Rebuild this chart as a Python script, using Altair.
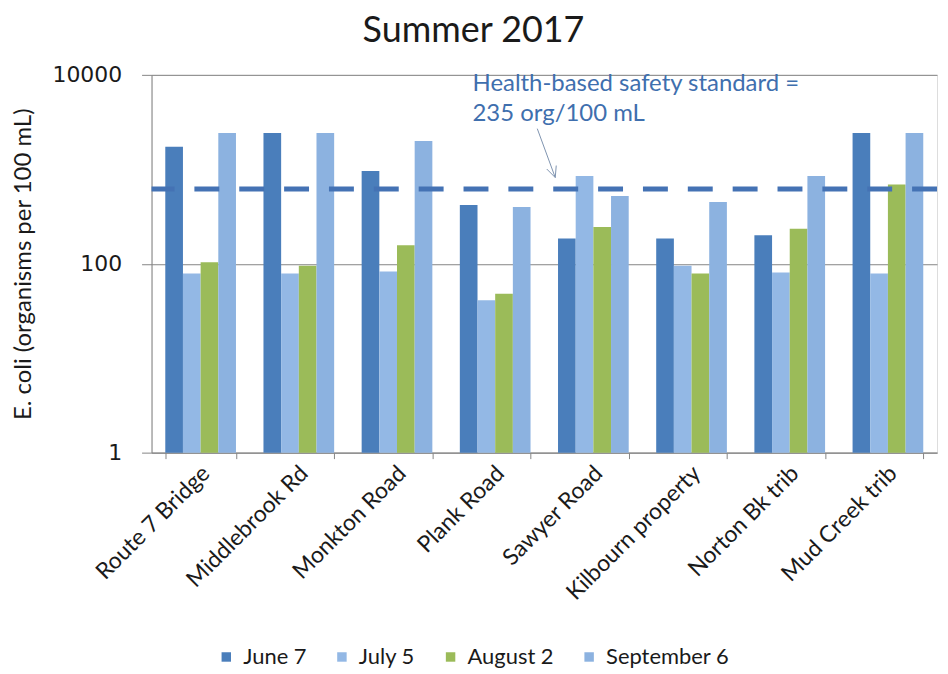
import altair as alt
import pandas as pd

sites = ["Route 7 Bridge", "Middlebrook Rd", "Monkton Road", "Plank Road",
         "Sawyer Road", "Kilbourn property", "Norton Bk trib", "Mud Creek trib"]
dates = ["June 7", "July 5", "August 2", "September 6"]
june7 = [1733, 2420, 960, 420, 185, 185, 200, 2420]
july5 = [79, 79, 83, 41, 850, 95, 81, 79]
aug2 = [104, 95, 157, 48, 245, 79, 235, 690]
sept6 = [2420, 2420, 1990, 400, 520, 450, 850, 2420]
colors = ["#4a7ebb", "#93b8e5", "#9bbb59", "#8cb2e0"]
standard_drawn = [620]  # dashed line as drawn in the picture
y_ticks = [1, 100, 10000]

rows = []
for d, series in zip(dates, [june7, july5, aug2, sept6]):
    for s, v in zip(sites, series):
        rows.append({"site": s, "date": d, "value": v})
df = pd.DataFrame(rows)

FONT = "Lato"
W, H = 788, 379

x = alt.X("site:N", sort=sites, title=None,
          scale=alt.Scale(paddingInner=0.28, paddingOuter=0.14),
          axis=alt.Axis(labelAngle=-45, labelAlign="right", labelBaseline="middle",
                        labelFontSize=23, labelFont=FONT, labelColor="#1a1a1a",
                        tickBand="extent", tickSize=6, tickColor="#868686",
                        domainColor="#868686", labelPadding=11, labelOffset=5,
                        grid=False))
y = alt.Y("value:Q", title="E. coli (organisms per 100 mL)",
          scale=alt.Scale(type="log", domain=[1, 10000], nice=False),
          axis=alt.Axis(values=y_ticks, format="d", labelFontSize=22,
                        labelFont="DejaVu Sans", labelColor="#1a1a1a",
                        tickSize=10, tickColor="#868686", domainColor="#868686",
                        labelPadding=20, titleFontSize=24, titleFont=FONT,
                        titleFontWeight="normal", titleColor="#1a1a1a",
                        titlePadding=16, grid=True, gridColor="#868686"))

bars = alt.Chart(df).mark_bar().encode(
    x=x,
    xOffset=alt.XOffset("date:N", sort=dates),
    y=y,
    y2=alt.datum(1),
    color=alt.Color("date:N", sort=dates,
                    scale=alt.Scale(domain=dates, range=colors),
                    legend=alt.Legend(title=None, orient="none", direction="horizontal",
                                      legendX=64, legendY=573, symbolType="square",
                                      symbolSize=90, symbolStrokeWidth=0,
                                      labelFontSize=22, labelFont=FONT,
                                      labelColor="#1a1a1a", columnPadding=24,
                                      labelOffset=6, symbolOpacity=1)),
)

rule = alt.Chart(pd.DataFrame({"v": standard_drawn})).mark_rule(
    color="#4472b4", strokeWidth=5, strokeDash=[25, 20]
).encode(y=alt.Y("v:Q"))

note = alt.Chart(pd.DataFrame({"t": ["Health-based safety standard =\n235 org/100 mL"]})).mark_text(
    align="left", baseline="alphabetic", fontSize=24, font=FONT, color="#3f6fae",
    lineBreak="\n", lineHeight=30
).encode(text="t:N", x=alt.value(322), y=alt.value(16))

arrow_df = pd.DataFrame({"x": [387, 405, 405], "y": [54, 103, 103],
                         "x2": [405, 406, 396.5], "y2": [103, 91, 94.5]})
arrow = alt.Chart(arrow_df).mark_rule(color="#8094b0", strokeWidth=1).encode(
    x=alt.X("x:Q", scale=None), y=alt.Y("y:Q", scale=None),
    x2="x2:Q", y2="y2:Q")

chart = alt.layer(bars, rule, note, arrow).resolve_scale(x="shared").properties(
    width=W, height=H,
    title=alt.TitleParams("Summer 2017", fontSize=36, font=FONT, fontWeight="normal",
                          color="#1a1a1a", anchor="middle", dx=-71, offset=14),
    padding={"left": 4, "top": 4, "right": 0, "bottom": 0},
).configure_view(stroke=None).configure(background="white")

chart.save("out.html", embed_options={"renderer": "svg", "actions": False})
